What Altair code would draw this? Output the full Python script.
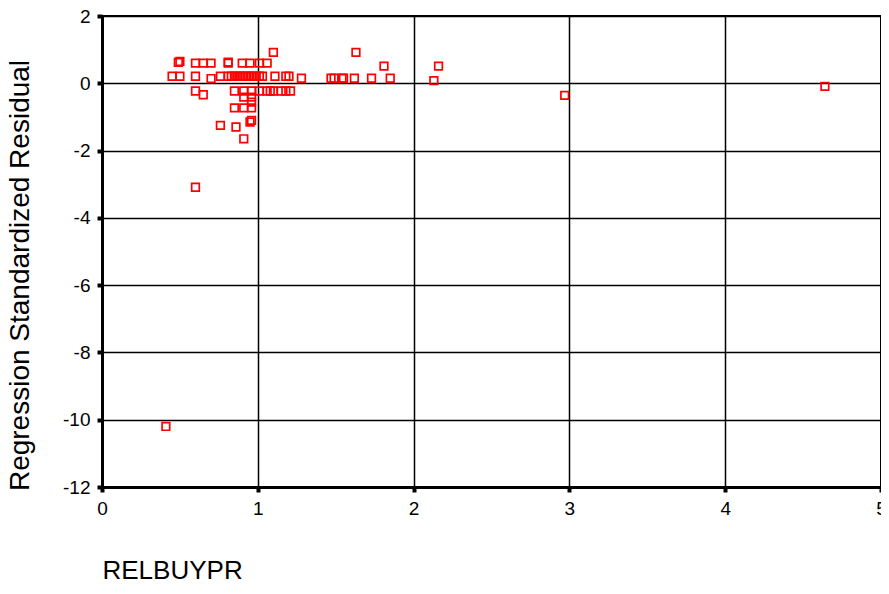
import altair as alt
import pandas as pd

x_vals = [
    0.41, 0.60, 4.64, 2.97, 2.16, 2.13, 1.85, 1.81, 1.63, 1.73, 1.62, 1.55, 1.54, 1.49, 1.47, 1.28, 1.10,
    0.49, 0.50, 0.60, 0.65, 0.70, 0.81, 0.81, 0.90, 0.95, 1.01, 1.06,
    0.45, 0.50, 0.60, 0.76, 0.81, 0.83, 0.85, 0.87, 0.89, 0.91, 0.93, 0.95, 0.97, 0.99, 1.01, 1.03,
    1.11, 1.18, 1.20, 0.70,
    0.60, 0.85, 0.91, 0.96, 1.01, 1.06, 1.08, 1.10, 1.15, 1.18, 1.21,
    0.65, 0.91, 0.96, 0.96,
    0.85, 0.91, 0.96,
    0.95, 0.96, 0.76, 0.86, 0.91,
]
y_vals = [
    -10.20, -3.09, -0.09, -0.36, 0.51, 0.08, 0.15, 0.51, 0.92, 0.15, 0.15, 0.15, 0.15, 0.15, 0.15, 0.15, 0.92,
    0.62, 0.65, 0.60, 0.60, 0.60, 0.60, 0.63, 0.60, 0.60, 0.60, 0.60,
    0.21, 0.21, 0.21, 0.21, 0.21, 0.21, 0.21, 0.21, 0.21, 0.21, 0.21, 0.21, 0.21, 0.21, 0.21, 0.21,
    0.21, 0.21, 0.21, 0.14,
    -0.23, -0.23, -0.23, -0.23, -0.23, -0.23, -0.23, -0.23, -0.23, -0.23, -0.23,
    -0.34, -0.41, -0.41, -0.56,
    -0.73, -0.73, -0.73,
    -1.15, -1.10, -1.25, -1.30, -1.65,
]

x_ticks = [0, 1, 2, 3, 4, 5]
y_ticks = [-12, -10, -8, -6, -4, -2, 0, 2]

df = pd.DataFrame({"RELBUYPR": x_vals, "resid": y_vals})

FONT = "Liberation Sans"

chart = alt.Chart(df).mark_point(
    shape="square", filled=False, color="#FF0000", size=58, strokeWidth=1.7, opacity=1
).encode(
    x=alt.X(
        "RELBUYPR:Q",
        scale=alt.Scale(domain=[0, 5], nice=False, zero=False),
        axis=alt.Axis(
            values=x_ticks, title="RELBUYPR", labelExpr="datum.value + ''",
            titleAnchor="start", titleAlign="left", titleX=0, titleY=91,
            titleBaseline="alphabetic", titleFontSize=26,
        ),
    ),
    y=alt.Y(
        "resid:Q",
        scale=alt.Scale(domain=[-12, 2], nice=False, zero=False),
        axis=alt.Axis(
            values=y_ticks, title="Regression Standardized Residual", labelExpr="datum.value + ''",
            titleX=-74, titleY=259, titleAngle=270, titleBaseline="alphabetic", titleAlign="center",
            titleFontSize=28,
        ),
    ),
).properties(
    width=779, height=471,
    autosize=alt.AutoSizeParams(type="none"),
    padding={"left": 94, "top": 8, "right": 0, "bottom": 97},
).configure_view(
    stroke="black", strokeWidth=2
).configure_axis(
    grid=True, gridColor="black", gridWidth=1.5, gridOpacity=1,
    domainColor="black", domainWidth=3,
    tickColor="black", tickSize=5, tickWidth=4,
    labelFont=FONT, labelFontSize=19, labelColor="black", labelPadding=7,
    titleFont=FONT, titleFontWeight="normal", titleColor="black",
    labelFlush=False, labelOverlap=False,
)

chart.save("out.html", embed_options={"renderer": "svg", "actions": False})
